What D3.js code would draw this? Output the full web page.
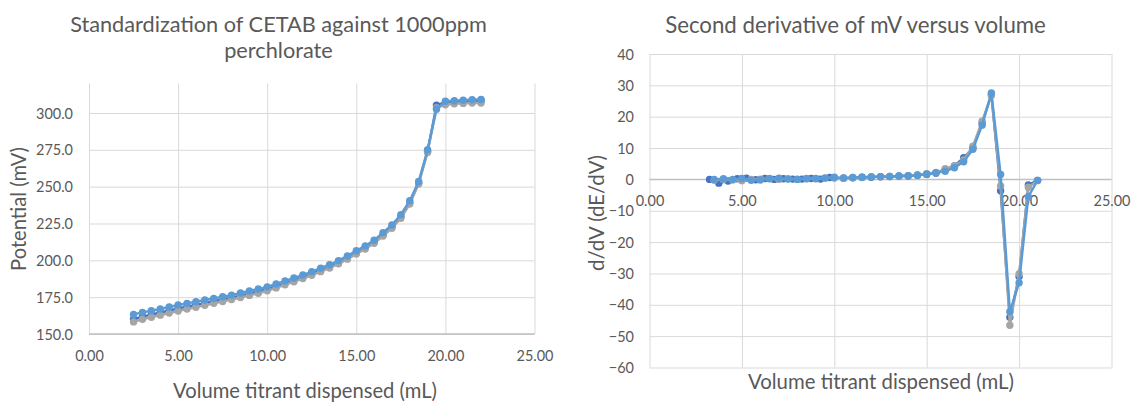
<!DOCTYPE html>
<html>
<head>
<meta charset="utf-8">
<script src="https://cdn.jsdelivr.net/npm/d3@7"></script>
<style>
  html, body { margin: 0; padding: 0; background: #ffffff; }
  svg { display: block; font-family: Lato, "Open Sans", sans-serif; }
</style>
</head>
<body>
<svg id="chart" width="1133" height="402"></svg>
<script>
// ---------- Data: titration curves (left chart) ----------
const volume = [2.5, 3.0, 3.5, 4.0, 4.5, 5.0, 5.5, 6.0, 6.5, 7.0, 7.5, 8.0, 8.5, 9.0, 9.5, 10.0,
  10.5, 11.0, 11.5, 12.0, 12.5, 13.0, 13.5, 14.0, 14.5, 15.0, 15.5, 16.0, 16.5, 17.0, 17.5, 18.0,
  18.5, 19.0, 19.5, 20.0, 20.5, 21.0, 21.5, 22.0];
const potentialRun1 = [160.0, 161.8, 163.2, 164.6, 165.9, 167.3, 168.6, 169.8, 171.0, 172.2, 173.4, 174.6, 176.0, 177.4, 178.8, 180.5,
  182.4, 184.4, 186.4, 188.5, 190.8, 193.1, 195.6, 198.4, 201.5, 205.0, 208.4, 212.2, 217.2, 222.6, 229.5, 239.0,
  252.5, 274.0, 305.3, 307.2, 307.6, 307.9, 308.1, 308.2];
const potentialRun2 = [158.2, 160.0, 161.4, 162.8, 164.2, 165.6, 166.9, 168.2, 169.5, 170.8, 172.1, 173.4, 174.8, 176.2, 177.6, 179.3,
  181.3, 183.4, 185.5, 187.6, 189.9, 192.3, 194.8, 197.6, 200.8, 204.3, 207.7, 211.6, 216.5, 221.8, 228.6, 238.2,
  251.8, 273.2, 303.5, 305.6, 306.2, 306.5, 306.7, 306.8];
const potentialRun3 = [163.3, 164.7, 165.8, 167.0, 168.3, 169.7, 170.8, 171.9, 173.1, 174.2, 175.3, 176.4, 177.8, 179.2, 180.5, 182.0,
  184.0, 186.0, 188.0, 190.0, 192.3, 194.7, 197.0, 199.8, 203.0, 206.5, 209.8, 213.6, 218.8, 224.0, 231.0, 240.5,
  253.5, 275.0, 302.5, 308.0, 308.3, 308.7, 309.0, 309.1];
const potentialTicks = [150, 175, 200, 225, 250, 275, 300];
const volumeTicks = [0, 5, 10, 15, 20, 25];

// ---------- Data: second derivative (right chart) ----------
const deriv2VolumeRun1 = [3.25, 3.75, 4.25, 4.75, 5.25, 5.75, 6.25, 6.75, 7.25, 7.75, 8.25, 8.75, 9.25, 9.75,
  10.0, 10.5, 11.0, 11.5, 12.0, 12.5, 13.0, 13.5, 14.0, 14.5, 15.0, 15.5, 16.0, 16.5, 17.0, 17.5, 18.0,
  18.5, 19.0, 19.5, 20.0, 20.5, 21.0];
const deriv2Run1 = [0.0, -1.2, -0.5, 0.2, 0.4, -0.1, 0.3, 0.0, 0.2, 0.1, 0.1, 0.3, 0.1, 0.6,
  0.5, 0.4, 0.5, 0.7, 0.7, 0.9, 0.9, 1.1, 1.1, 1.3, 1.6, 2.0, 3.0, 4.3, 6.9, 10.0, 18.0,
  27.0, -3.6, -44.0, -31.0, -1.8, -0.3];
const deriv2Volume = [3.5, 4.0, 4.5, 5.0, 5.5, 6.0, 6.5, 7.0, 7.5, 8.0, 8.5, 9.0, 9.5, 10.0,
  10.5, 11.0, 11.5, 12.0, 12.5, 13.0, 13.5, 14.0, 14.5, 15.0, 15.5, 16.0, 16.5, 17.0, 17.5, 18.0,
  18.5, 19.0, 19.5, 20.0, 20.5, 21.0];
const deriv2Run2 = [-0.3, 0.0, -0.2, -0.4, 0.0, 0.1, 0.3, 0.0, 0.2, 0.1, 0.3, 0.2, 0.5, 0.5,
  0.4, 0.6, 0.6, 0.9, 0.8, 1.0, 1.0, 1.2, 1.4, 1.8, 2.2, 3.4, 4.3, 6.2, 10.6, 18.6,
  26.8, -2.1, -46.5, -30.1, -2.5, -0.4];
const deriv2Run3 = [0.0, 0.2, 0.0, 0.3, -0.3, -0.2, 0.2, 0.4, 0.1, 0.0, 0.2, 0.3, 0.4, 0.7,
  0.5, 0.6, 0.7, 0.8, 0.9, 0.9, 1.1, 1.2, 1.3, 1.7, 2.1, 2.6, 3.7, 5.6, 9.6, 17.3,
  27.6, 1.6, -42.2, -33.0, -5.5, -0.3];
const deriv2Ticks = [-60, -50, -40, -30, -20, -10, 0, 10, 20, 30, 40];

// ---------- Styles ----------
const COLORS = ["#4472C4", "#A5A5A5", "#5B9BD5"];
const GRID = "#D9D9D9";
const AXIS = "#BFBFBF";
const TEXT = "#595959";

const svg = d3.select("#chart");

// helper: fit a text element's font size to a target width
function fitWidth(sel, target) {
  const node = sel.node();
  const base = parseFloat(sel.attr("font-size"));
  const len = node.getComputedTextLength();
  if (len > 0) sel.attr("font-size", (base * target / len).toFixed(2));
  return sel;
}

// measure tick font size so that "300.0" is ~37px wide
const probe = svg.append("text").attr("font-size", 16).text("300.0");
fitWidth(probe, 37);
const tickFont = parseFloat(probe.attr("font-size"));
probe.remove();

function drawChart(cfg) {
  const g = svg.append("g");
  const x = d3.scaleLinear().domain(cfg.xDomain).range(cfg.xRange);
  const y = d3.scaleLinear().domain(cfg.yDomain).range(cfg.yRange);
  const top = cfg.yRange[1], bottom = cfg.yRange[0];
  const left = cfg.xRange[0], right = cfg.xRange[1];

  // horizontal gridlines
  g.append("g")
    .attr("transform", `translate(${left},0)`)
    .call(d3.axisLeft(y).tickValues(cfg.yTicks).tickSize(-(right - left)).tickFormat(""))
    .call(s => s.select(".domain").remove())
    .call(s => s.selectAll("line").attr("stroke", GRID).attr("stroke-width", 1));

  // vertical gridlines
  g.append("g")
    .attr("transform", `translate(0,${bottom})`)
    .call(d3.axisBottom(x).tickValues(cfg.xTicks).tickSize(-(bottom - top)).tickFormat(""))
    .call(s => s.select(".domain").remove())
    .call(s => s.selectAll("line").attr("stroke", GRID).attr("stroke-width", 1));

  // horizontal axis line
  const axisY = y(cfg.xAxisAt);
  g.append("line")
    .attr("x1", left).attr("x2", right)
    .attr("y1", axisY).attr("y2", axisY)
    .attr("stroke", AXIS).attr("stroke-width", 1.3);

  // y tick labels
  g.append("g")
    .attr("transform", `translate(${left},0)`)
    .call(d3.axisLeft(y).tickValues(cfg.yTicks).tickSize(0).tickPadding(cfg.yPad).tickFormat(d3.format(cfg.yFormat)))
    .call(s => s.select(".domain").remove())
    .call(s => s.selectAll("text")
      .attr("fill", TEXT).attr("font-size", tickFont)
      .attr("font-family", "Lato, 'Open Sans', sans-serif")
      .attr("dy", "0.35em"));

  // x tick labels
  g.append("g")
    .attr("transform", `translate(0,${axisY})`)
    .call(d3.axisBottom(x).tickValues(cfg.xTicks).tickSize(0).tickFormat(d3.format(".2f")))
    .call(s => s.select(".domain").remove())
    .call(s => s.selectAll("text")
      .attr("fill", TEXT).attr("font-size", tickFont)
      .attr("font-family", "Lato, 'Open Sans', sans-serif")
      .attr("y", cfg.xLabelOffset).attr("dy", "0.35em"));

  // series
  const line = d3.line().x(d => x(d[0])).y(d => y(d[1]));
  cfg.series.forEach((s, i) => {
    const pts = s.x.map((v, k) => [v, s.y[k]]);
    g.append("path")
      .datum(pts)
      .attr("fill", "none")
      .attr("stroke", COLORS[i])
      .attr("stroke-width", 2.4)
      .attr("stroke-linejoin", "round")
      .attr("d", line);
    g.append("g").selectAll("circle")
      .data(pts)
      .join("circle")
      .attr("cx", d => x(d[0]))
      .attr("cy", d => y(d[1]))
      .attr("r", 3.7)
      .attr("fill", COLORS[i]);
  });

  // titles
  cfg.title.forEach((t, i) => {
    const tt = g.append("text")
      .attr("x", cfg.titleX).attr("y", t.y)
      .attr("text-anchor", "middle")
      .attr("fill", TEXT)
      .attr("font-size", 20)
      .text(t.text);
    if (t.width) fitWidth(tt, t.width);
  });

  const xl = g.append("text")
    .attr("x", cfg.xTitle.x).attr("y", cfg.xTitle.y)
    .attr("text-anchor", "middle").attr("fill", TEXT)
    .attr("font-size", 20).text(cfg.xTitle.text);
  fitWidth(xl, cfg.xTitle.width);
  const axisTitleSize = xl.attr("font-size");

  g.append("text")
    .attr("transform", `translate(${cfg.yTitle.x},${cfg.yTitle.y}) rotate(-90)`)
    .attr("text-anchor", "middle").attr("fill", TEXT)
    .attr("font-size", axisTitleSize).text(cfg.yTitle.text);

  return g;
}

// Left chart
const leftChart = drawChart({
  xDomain: [0, 25], xRange: [89, 534.5],
  yDomain: [150, 320], yRange: [334, 83.5],
  xTicks: volumeTicks, yTicks: potentialTicks,
  yFormat: ".1f", yPad: 16, xAxisAt: 150, xLabelOffset: 22,
  series: [
    { x: volume, y: potentialRun1 },
    { x: volume, y: potentialRun2 },
    { x: volume, y: potentialRun3 }
  ],
  titleX: 278.5,
  title: [
    { text: "Standardization of CETAB against 1000ppm", y: 32, width: 417 },
    { text: "perchlorate", y: 58 }
  ],
  xTitle: { text: "Volume titrant dispensed (mL)", x: 305, y: 398, width: 264 },
  yTitle: { text: "Potential (mV)", x: 25.5, y: 209 }
});
// make line 2 of the left title match line 1 size
const lt = leftChart.selectAll("text").filter(function () { return this.textContent === "Standardization of CETAB against 1000ppm"; });
leftChart.selectAll("text").filter(function () { return this.textContent === "perchlorate"; })
  .attr("font-size", lt.attr("font-size"));

// Right chart
const rightChart = drawChart({
  xDomain: [0, 25], xRange: [649.5, 1111.5],
  yDomain: [-60, 40], yRange: [367.5, 54],
  xTicks: volumeTicks, yTicks: deriv2Ticks,
  yFormat: "d", yPad: 15.5, xAxisAt: 0, xLabelOffset: 22,
  series: [
    { x: deriv2VolumeRun1, y: deriv2Run1 },
    { x: deriv2Volume, y: deriv2Run2 },
    { x: deriv2Volume, y: deriv2Run3 }
  ],
  titleX: 855.5,
  title: [
    { text: "Second derivative of mV versus volume", y: 33, width: 381 }
  ],
  xTitle: { text: "Volume titrant dispensed (mL)", x: 881, y: 389, width: 266 },
  yTitle: { text: "d/dV (dE/dV)", x: 604, y: 213 }
});
</script>
</body>
</html>
